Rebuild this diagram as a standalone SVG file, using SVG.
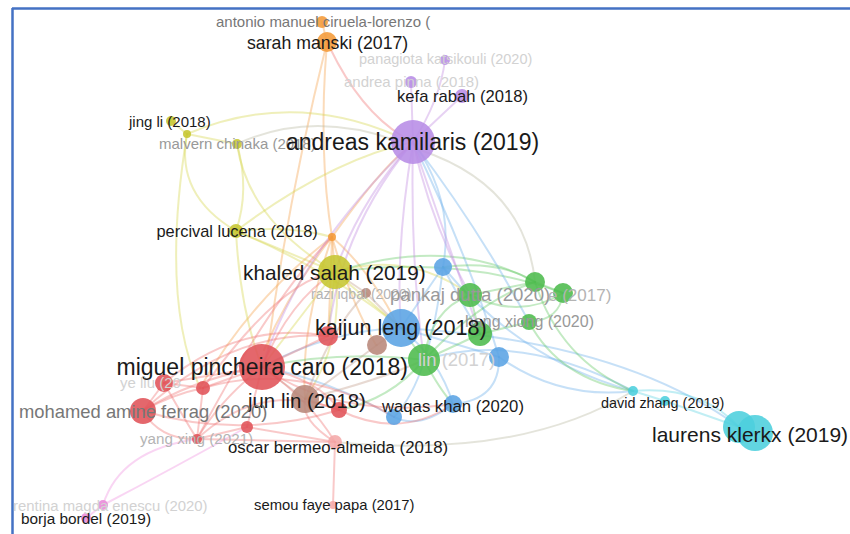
<svg xmlns="http://www.w3.org/2000/svg" width="850" height="534" viewBox="0 0 850 534">
<style>
text{font-family:"Liberation Sans",Arial,sans-serif;}
.e{fill:none;stroke-width:2;stroke-opacity:0.38;stroke-linecap:round;}
.or{stroke:#f5a04a}.ye{stroke:#d6d64a}.pu{stroke:#c08ae0}.bl{stroke:#6aaeea}.gr{stroke:#62c862}
.re{stroke:#f07070}.pk{stroke:#f090e0}.cy{stroke:#5cd3e3}.br{stroke:#c09a8a}.gy{stroke:#b8b8a0}
.n{fill-opacity:0.88}
.c-or{fill:#f49a38}.c-pu{fill:#b78ce6}.c-ye{fill:#c6c630}.c-br{fill:#b8877a}.c-bl{fill:#5aa3e4}
.c-gr{fill:#4cbb4c}.c-re{fill:#e05258}.c-lr{fill:#f4a8a8}.c-pk{fill:#e88ad8}.c-cy{fill:#4ccfdd}
.k{fill:#1a1a1a}.g1{fill:#777}.g2{fill:#999}.g3{fill:#b4b4b4}.g4{fill:#d2d2d2}
</style>
<rect width="850" height="534" fill="#fff"/>
<path d="M12,8.5H850M12.5,8V534" stroke="#4472c4" stroke-width="2.5" fill="none"/>
<g id="connectors">
<!-- orange -->
<path class="e or" d="M322,22 L327,42"/>
<path class="e or" d="M327,42 Q288,200 268,348"/>
<path class="e re" d="M330,48 Q360,110 402,136"/>
<path class="e or" d="M327,42 Q318,150 332,237"/>
<path class="e or" d="M332,237 L335,272"/>
<path class="e or" d="M332,237 Q370,270 398,326"/>
<path class="e or" d="M332,237 Q290,290 264,350"/>
<path class="e or" d="M332,237 Q380,170 405,150"/>
<path class="e or" d="M332,237 Q330,300 328,336"/>
<path class="e or" d="M332,237 Q350,300 376,345"/>
<path class="e or" d="M332,237 Q300,330 305,398"/>
<path class="e or" d="M332,237 Q250,300 200,388"/>
<!-- yellow -->
<path class="e ye" d="M171,121 L187,134"/>
<path class="e ye" d="M187,134 Q175,195 236,231"/>
<path class="e ye" d="M187,134 Q290,90 395,135"/>
<path class="e ye" d="M187,134 L237,144"/>
<path class="e ye" d="M187,134 Q160,300 200,388"/>
<path class="e ye" d="M237,144 Q248,220 335,272"/>
<path class="e ye" d="M237,144 Q250,190 236,231"/>
<path class="e gy" d="M237,144 Q310,110 395,140"/>
<path class="e ye" d="M236,231 Q290,225 332,237"/>
<path class="e ye" d="M236,231 L335,272"/>
<path class="e ye" d="M236,231 Q240,310 262,367"/>
<path class="e ye" d="M236,231 Q330,270 401,328"/>
<path class="e ye" d="M236,231 Q330,160 413,142"/>
<path class="e ye" d="M335,272 L401,328"/>
<path class="e ye" d="M335,272 Q410,250 470,295"/>
<path class="e gr" d="M335,272 Q450,235 535,282"/>
<path class="e gr" d="M335,272 Q460,255 563,293"/>
<path class="e ye" d="M335,272 L262,367"/>
<path class="e ye" d="M335,272 L328,336"/>
<path class="e ye" d="M335,272 Q345,340 305,399"/>
<!-- purple -->
<path class="e pu" d="M413,142 L462,96"/>
<path class="e pu" d="M413,142 L411,82"/>
<path class="e pu" d="M413,142 Q440,100 445,60"/>
<path class="e pu" d="M413,142 Q360,200 335,272"/>
<path class="e pu" d="M413,142 Q395,250 401,328"/>
<path class="e bl" d="M413,142 Q455,200 443,267"/>
<path class="e pu" d="M413,142 Q430,220 470,295"/>
<path class="e pu" d="M413,142 Q450,250 480,334"/>
<path class="e pu" d="M413,142 Q340,230 328,336"/>
<path class="e pu" d="M413,142 Q410,260 424,360"/>
<path class="e bl" d="M413,142 Q480,230 529,322"/>
<path class="e gy" d="M420,150 Q525,185 535,282"/>
<path class="e bl" d="M413,142 Q470,260 499,357"/>
<path class="e pu" d="M413,142 Q300,250 262,367"/>
<!-- blue -->
<path class="e bl" d="M401,328 L443,267"/>
<path class="e bl" d="M401,328 L499,357"/>
<path class="e bl" d="M401,328 Q440,360 453,404"/>
<path class="e bl" d="M401,328 Q330,330 262,367"/>
<path class="e bl" d="M401,328 Q620,340 739,427"/>
<path class="e bl" d="M499,357 Q560,400 633,391"/>
<path class="e bl" d="M499,357 Q500,400 453,404"/>
<path class="e bl" d="M453,404 Q420,430 394,417"/>
<path class="e bl" d="M394,417 Q330,380 262,367"/>
<path class="e bl" d="M443,267 Q520,360 633,391"/>
<path class="e bl" d="M443,267 Q430,380 394,417"/>
<path class="e bl" d="M443,267 Q460,300 480,334"/>
<path class="e bl" d="M424,360 Q520,330 633,391"/>
<!-- green -->
<path class="e gr" d="M470,295 L535,282"/>
<path class="e gr" d="M470,295 Q520,320 563,293"/>
<path class="e gr" d="M535,282 L563,293"/>
<path class="e gr" d="M563,293 Q560,320 529,322"/>
<path class="e gr" d="M470,295 L480,334"/>
<path class="e gr" d="M480,334 L424,360"/>
<path class="e gr" d="M424,360 L401,328"/>
<path class="e gr" d="M470,295 Q430,310 424,360"/>
<path class="e gr" d="M535,282 Q560,360 633,391"/>
<path class="e gr" d="M529,322 Q560,380 633,391"/>
<path class="e gr" d="M424,360 Q340,350 262,367"/>
<path class="e gr" d="M424,360 Q440,390 453,404"/>
<path class="e gr" d="M529,322 L480,334"/>
<path class="e gr" d="M535,282 Q480,300 424,360"/>
<path class="e gr" d="M424,360 Q390,400 339,410"/>
<path class="e gr" d="M443,267 Q500,260 535,282"/>
<!-- cyan -->
<path class="e cy" d="M633,391 L665,401"/>
<path class="e cy" d="M633,391 Q700,385 739,427"/>
<path class="e cy" d="M665,401 L748,430"/>
<path class="e gy" d="M335,442 Q520,460 633,391"/>
<!-- brown -->
<path class="e br" d="M366,293 L335,272"/>
<path class="e br" d="M366,293 L401,328"/>
<path class="e br" d="M377,345 L401,328"/>
<path class="e br" d="M377,345 L305,399"/>
<path class="e br" d="M305,399 L262,367"/>
<path class="e br" d="M366,293 Q330,330 305,399"/>
<path class="e br" d="M305,399 Q380,380 424,360"/>
<!-- red -->
<path class="e re" d="M262,367 L328,336"/>
<path class="e re" d="M262,367 L164,383"/>
<path class="e re" d="M262,367 L203,388"/>
<path class="e re" d="M262,367 Q190,380 143,411"/>
<path class="e re" d="M262,367 Q220,400 197,439"/>
<path class="e re" d="M262,367 L247,427"/>
<path class="e re" d="M262,367 Q320,380 339,410"/>
<path class="e re" d="M262,367 Q310,400 335,442"/>
<path class="e re" d="M164,383 L203,388"/>
<path class="e re" d="M164,383 L143,411"/>
<path class="e re" d="M164,383 Q185,420 197,439"/>
<path class="e re" d="M203,388 L197,439"/>
<path class="e re" d="M203,388 Q170,395 143,411"/>
<path class="e re" d="M143,411 Q160,440 197,439"/>
<path class="e re" d="M247,427 L197,439"/>
<path class="e re" d="M335,442 L333,505"/>
<path class="e re" d="M335,442 L247,427"/>
<path class="e re" d="M305,399 L339,410"/>
<path class="e re" d="M164,383 Q240,320 328,336"/>
<path class="e re" d="M143,411 Q230,330 328,336"/>
<path class="e re" d="M203,388 Q300,360 394,417"/>
<path class="e re" d="M339,410 Q400,440 453,404"/>
<path class="e re" d="M262,367 Q340,420 453,404"/>
<path class="e re" d="M197,439 Q260,380 339,410"/>
<path class="e re" d="M197,439 L335,442"/>
<path class="e re" d="M143,411 Q240,440 339,410"/>
<path class="e re" d="M262,367 Q290,300 335,272"/>
<path class="e re" d="M203,388 Q280,280 335,272"/>
<path class="e re" d="M197,439 Q270,300 332,237"/>
<path class="e re" d="M335,442 Q300,420 305,399"/>
<!-- pink -->
<path class="e pk" d="M86,518 L103,505"/>
<path class="e pk" d="M103,505 Q120,450 197,439"/>
<path class="e pk" d="M103,505 Q170,470 247,427"/>
</g>
<g id="nodes">
<g id="n-antonio"><circle class="n c-or" cx="322" cy="22" r="6"/></g>
<g id="n-sarah"><circle class="n c-or" cx="327" cy="42" r="10"/></g>
<g id="n-orange2"><circle class="n c-or" cx="332" cy="237" r="4"/></g>
<g id="n-panagiota"><circle class="n c-pu" cx="445" cy="60" r="5"/></g>
<g id="n-pinna"><circle class="n c-pu" cx="411" cy="82" r="6"/></g>
<g id="n-kefa"><circle class="n c-pu" cx="462" cy="96" r="7"/></g>
<g id="n-andreas"><circle class="n c-pu" cx="413" cy="142" r="22"/></g>
<g id="n-jingli"><circle class="n c-ye" cx="171" cy="121" r="5"/></g>
<g id="n-yellow2"><circle class="n c-ye" cx="187" cy="134" r="4"/></g>
<g id="n-malvern"><circle class="n c-ye" cx="237" cy="144" r="5"/></g>
<g id="n-percival"><circle class="n c-ye" cx="236" cy="231" r="7"/></g>
<g id="n-khaled"><circle class="n c-ye" cx="335" cy="272" r="17"/></g>
<g id="n-razi"><circle class="n c-br" cx="366" cy="293" r="5"/></g>
<g id="n-brown2"><circle class="n c-br" cx="377" cy="345" r="10"/></g>
<g id="n-blue1"><circle class="n c-bl" cx="443" cy="267" r="9"/></g>
<g id="n-pankaj"><circle class="n c-gr" cx="470" cy="295" r="12"/></g>
<g id="n-green1"><circle class="n c-gr" cx="535" cy="282" r="10"/></g>
<g id="n-green2"><circle class="n c-gr" cx="563" cy="293" r="10"/></g>
<g id="n-hangxiong"><circle class="n c-gr" cx="529" cy="322" r="8"/></g>
<g id="n-green3"><circle class="n c-gr" cx="480" cy="334" r="12"/></g>
<g id="n-red1"><circle class="n c-re" cx="328" cy="336" r="10"/></g>
<g id="n-kaijun"><circle class="n c-bl" cx="401" cy="328" r="19"/></g>
<g id="n-blue3"><circle class="n c-bl" cx="499" cy="357" r="10"/></g>
<g id="n-lin2017"><circle class="n c-gr" cx="424" cy="360" r="16"/></g>
<g id="n-miguel"><circle class="n c-re" cx="262" cy="367" r="23"/></g>
<g id="n-yeliu"><circle class="n c-re" cx="164" cy="383" r="9"/></g>
<g id="n-red2"><circle class="n c-re" cx="203" cy="388" r="7"/></g>
<g id="n-mohamed"><circle class="n c-re" cx="143" cy="411" r="13"/></g>
<g id="n-junlin"><circle class="n c-br" cx="305" cy="399" r="14"/></g>
<g id="n-red4"><circle class="n c-re" cx="339" cy="410" r="8"/></g>
<g id="n-red3"><circle class="n c-re" cx="247" cy="427" r="6"/></g>
<g id="n-yangxing"><circle class="n c-re" cx="197" cy="439" r="5"/></g>
<g id="n-oscar"><circle class="n c-lr" cx="335" cy="442" r="7"/></g>
<g id="n-semou"><circle class="n c-lr" cx="333" cy="505" r="4"/></g>
<g id="n-waqas"><circle class="n c-bl" cx="453" cy="404" r="9"/></g>
<g id="n-blue4"><circle class="n c-bl" cx="394" cy="417" r="8"/></g>
<g id="n-florentina"><circle class="n c-pk" cx="103" cy="505" r="5"/></g>
<g id="n-borja"><circle class="n c-pk" cx="86" cy="518" r="5"/></g>
<g id="n-david"><circle class="n c-cy" cx="633" cy="391" r="5"/></g>
<g id="n-cyan2"><circle class="n c-cy" cx="665" cy="401" r="5"/></g>
<g id="n-laurens"><circle class="n c-cy" cx="739" cy="427" r="16"/><circle class="n c-cy" cx="755" cy="433" r="18"/></g>
</g>
<g id="labels">
<text class="g1" x="216" y="27" font-size="15">antonio manuel ciruela-lorenzo (</text>
<text class="k" x="247" y="48.5" font-size="17.7">sarah manski (2017)</text>
<text class="g4" x="359" y="64" font-size="14.5">panagiota katsikouli (2020)</text>
<text class="g4" x="344" y="87" font-size="15">andrea pinna (2018)</text>
<text class="k" x="397" y="101.5" font-size="16.6">kefa rabah (2018)</text>
<text class="k" x="129" y="126.5" font-size="15">jing li (2018)</text>
<text class="g2" x="159" y="149" font-size="15">malvern chinaka (2018)</text>
<text class="k" x="286" y="150" font-size="23">andreas kamilaris (2019)</text>
<text class="k" x="156.5" y="236.5" font-size="16.4">percival lucena (2018)</text>
<text class="k" x="243" y="279.5" font-size="20.8">khaled salah (2019)</text>
<text class="g3" x="311" y="299" font-size="14">razi iqbal (2020)</text>
<text class="g2" x="390" y="301" font-size="18.6">pankaj dutta (2020)</text>
<text class="g3" x="548" y="300.5" font-size="17">e (2017)</text>
<text class="g2" x="465" y="327" font-size="16">hang xiong (2020)</text>
<text class="k" x="315" y="335" font-size="21.6">kaijun leng (2018)</text>
<text class="g4" x="418" y="366" font-size="18.5">lin (2017)</text>
<text class="k" x="116.5" y="375" font-size="23">miguel pincheira caro (2018)</text>
<text class="g4" x="120" y="388" font-size="15">ye liu (20</text>
<text class="k" x="248" y="408" font-size="20.4">jun lin (2018)</text>
<text class="g1" x="19" y="417.5" font-size="18.4">mohamed amine ferrag (2020)</text>
<text class="k" x="382" y="412" font-size="16.7">waqas khan (2020)</text>
<text class="k" x="601" y="407.5" font-size="14.4">david zhang (2019)</text>
<text class="k" x="652" y="441.5" font-size="21">laurens klerkx (2019)</text>
<text class="g3" x="140" y="444" font-size="15.2">yang xing (2021)</text>
<text class="k" x="228" y="452.5" font-size="16.8">oscar bermeo-almeida (2018)</text>
<text class="g4" x="13" y="511" font-size="14.9">rentina magda enescu (2020)</text>
<text class="k" x="254" y="510" font-size="14.8">semou faye papa (2017)</text>
<text class="k" x="21" y="524" font-size="15.4">borja bordel (2019)</text>
</g>
</svg>
